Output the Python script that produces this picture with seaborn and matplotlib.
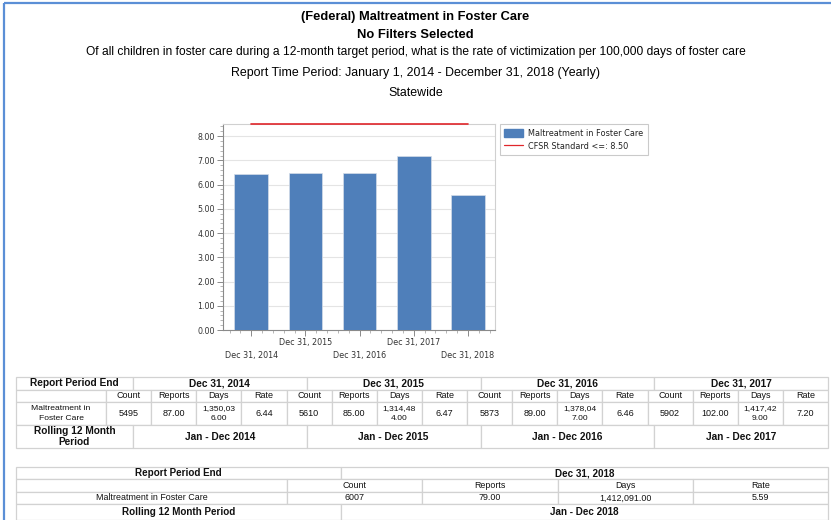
import matplotlib
matplotlib.use("Agg")
import matplotlib.pyplot as plt
import numpy as np
import seaborn as sns
from matplotlib.patches import Patch
from matplotlib.lines import Line2D
from matplotlib.ticker import MultipleLocator, FormatStrFormatter

# datos del reporte
periods = ["Dec 31, 2014", "Dec 31, 2015", "Dec 31, 2016", "Dec 31, 2017", "Dec 31, 2018"]
rolling = ["Jan - Dec 2014", "Jan - Dec 2015", "Jan - Dec 2016", "Jan - Dec 2017", "Jan - Dec 2018"]
counts = [5495, 5610, 5873, 5902, 6007]
reports = [87.00, 85.00, 89.00, 102.00, 79.00]
days = [1350036.00, 1314484.00, 1378047.00, 1417429.00, 1412091.00]
rates = [6.44, 6.47, 6.46, 7.20, 5.59]
cfsr_standard = 8.50

titles = ["(Federal) Maltreatment in Foster Care",
          "No Filters Selected",
          "Of all children in foster care during a 12-month target period, what is the rate of victimization per 100,000 days of foster care",
          "Report Time Period: January 1, 2014 - December 31, 2018 (Yearly)",
          "Statewide"]

sns.set_theme(style="white")
plt.rcParams["font.family"] = ["Liberation Sans", "DejaVu Sans"]

W, H = 831, 520
fig = plt.figure(figsize=(W / 100, H / 100), dpi=100)

# capa de fondo para bordes y tablas (coordenadas en pixeles)
bg = fig.add_axes([0, 0, 1, 1])
bg.set_xlim(0, W)
bg.set_ylim(H, 0)
bg.axis("off")
bg.plot([4, 4], [3, H], color="#5b8fd6", lw=1.6, solid_capstyle="butt")
bg.plot([4, W], [3, 3], color="#5b8fd6", lw=1.6, solid_capstyle="butt")

# titulos
title_y = [17, 35, 52, 73, 93]
title_w = ["bold", "bold", "normal", "normal", "normal"]
title_s = [9.3, 9.4, 8.65, 8.9, 8.9]
for t, y, w, s in zip(titles, title_y, title_w, title_s):
    fig.text(0.5, 1 - y / H, t, ha="center", va="center", fontsize=s, fontweight=w, color="black")

# grafico de barras
ax = fig.add_axes([223 / W, 1 - 330 / H, (495 - 223) / W, (330 - 124) / H])
sns.barplot(x=periods, y=rates, color="#4f7fba", saturation=1, width=0.62,
            edgecolor="#d5dde8", linewidth=0.5, ax=ax, zorder=3)
xs = np.arange(len(periods))
ax.plot(xs, np.full(len(periods), cfsr_standard), color="#e0262b", lw=1.2, zorder=4, clip_on=False)
ax.set_xlim(-0.52, len(periods) - 0.5)
ax.set_ylim(0, 8.5)
ax.yaxis.set_major_locator(MultipleLocator(1))
ax.yaxis.set_minor_locator(MultipleLocator(0.2))
ax.yaxis.set_major_formatter(FormatStrFormatter("%.2f"))
ax.xaxis.set_minor_locator(MultipleLocator(0.2))
ax.grid(axis="y", color="#e4e4e4", lw=0.8, zorder=0)
ax.set_axisbelow(True)
ax.set_xlabel("")
ax.set_ylabel("")
ax.set_xticks(xs)
ax.set_xticklabels([("\n" + p) if i % 2 == 0 else p for i, p in enumerate(periods)],
                   fontsize=5.8, family="DejaVu Sans", color="#333333", linespacing=1.5)
for lab in ax.get_yticklabels():
    lab.set_fontsize(5.7)
    lab.set_family("DejaVu Sans")
    lab.set_color("#333333")
ax.tick_params(axis="both", which="major", length=4, width=0.6, color="#777777", pad=2, bottom=True, left=True)
ax.tick_params(axis="both", which="minor", length=2, width=0.5, color="#999999", bottom=True, left=True)
for side in ["left", "bottom"]:
    ax.spines[side].set_color("#8a8a8a")
    ax.spines[side].set_linewidth(0.8)
for side in ["top", "right"]:
    ax.spines[side].set_color("#d0d0d0")
    ax.spines[side].set_linewidth(0.8)

handles = [Patch(facecolor="#4f7fba", edgecolor="#4f7fba", label="Maltreatment in Foster Care"),
           Line2D([0], [0], color="#e0262b", lw=0.9, label="CFSR Standard <=: %.2f" % cfsr_standard)]
leg = ax.legend(handles=handles, loc="upper left", bbox_to_anchor=(1.018, 1.0), frameon=True,
                fancybox=False, prop={"family": "DejaVu Sans", "size": 5.9}, handlelength=2.3,
                handleheight=1.1, borderpad=0.55, labelspacing=0.5, handletextpad=0.6, borderaxespad=0)
leg.get_frame().set_edgecolor("#bdbdbd")
leg.get_frame().set_linewidth(0.8)
for t in leg.get_texts():
    t.set_color("#222222")


# tablas
def table_row(cells, widths, top, height, size, bold=False, x0=16):
    total = sum(widths)
    tb = bg.table(cellText=[cells], colWidths=[w / total for w in widths], cellLoc="center",
                  bbox=[x0 / W, 1 - (top + height) / H, total / W, height / H])
    tb.auto_set_font_size(False)
    tb.set_fontsize(size)
    for (r, c), cell in tb.get_celld().items():
        cell.set_edgecolor("#d2d2d2")
        cell.set_linewidth(0.9)
        cell.PAD = 0.02
        txt = cell.get_text()
        txt.set_fontweight("bold" if bold else "normal")
        txt.set_color("#111111")
    return tb


def fmt_days(d, wrap=True):
    s = "{:,.2f}".format(d)
    return s[:8] + "\n" + s[8:] if wrap else s


# tabla 1: 2014 - 2017
n1 = 4
w_group = (828 - 133) / n1
w_col = (828 - 106) / (n1 * 4)
table_row(["Report Period End"] + periods[:n1], [117] + [w_group] * n1, 377, 13, 7.3, bold=True)
table_row([""] + ["Count", "Reports", "Days", "Rate"] * n1, [90] + [w_col] * (4 * n1), 390, 12, 6.5)
vals = ["Maltreatment in\nFoster Care"]
for i in range(n1):
    vals += [str(counts[i]), "%.2f" % reports[i], fmt_days(days[i]), "%.2f" % rates[i]]
tb = table_row(vals, [90] + [w_col] * (4 * n1), 402, 23, 6.5)
for (r, c), cell in tb.get_celld().items():
    if c == 0 or c % 4 == 3:
        cell.get_text().set_fontsize(6.1)
        cell.get_text().set_linespacing(1.4)
table_row(["Rolling 12 Month\nPeriod"] + rolling[:n1], [117] + [w_group] * n1, 425, 23, 7.3, bold=True)

# tabla 2: 2018
table_row(["Report Period End", periods[4]], [325, 487], 467, 12, 7.1, bold=True)
table_row(["", "Count", "Reports", "Days", "Rate"], [271] + [135.25] * 4, 479, 13, 6.4)
table_row(["Maltreatment in Foster Care", str(counts[4]), "%.2f" % reports[4], fmt_days(days[4], wrap=False),
           "%.2f" % rates[4]], [271] + [135.25] * 4, 492, 12, 6.4)
table_row(["Rolling 12 Month Period", rolling[4]], [325, 487], 504, 16, 7.1, bold=True)

fig.savefig("out.png", dpi=100)
